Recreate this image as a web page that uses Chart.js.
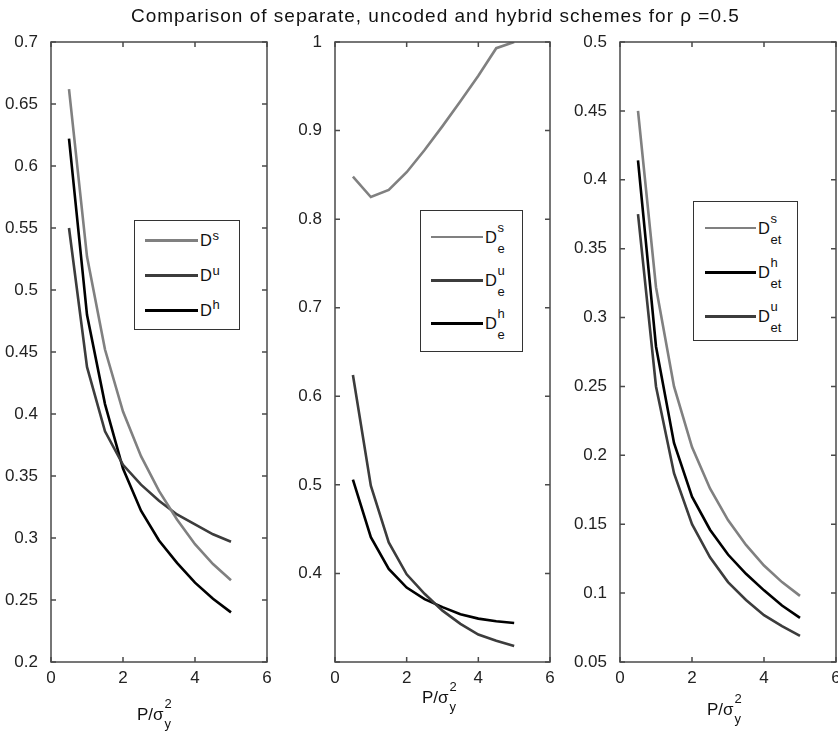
<!DOCTYPE html>
<html>
<head>
<meta charset="utf-8">
<script src="https://cdn.jsdelivr.net/npm/chart.js@4.4.1/dist/chart.umd.min.js"></script>
<style>
  html, body { margin: 0; padding: 0; background: #fff; overflow: hidden; width: 838px; height: 742px; }
  #page { position: relative; width: 838px; height: 742px; font-family: "Liberation Sans", Arial, sans-serif; color: #111; }
  #page canvas { position: absolute; left: 0; top: 0; }
  .t { position: absolute; line-height: 1; white-space: nowrap; }
  .leg { position: absolute; border: 1.5px solid #333; background: #fff; box-sizing: border-box; }
  .ln { position: absolute; }
</style>
</head>
<body>
<div id="page"></div>
<script>
// x = P / sigma_y^2
const powerRatio = [0.5, 1, 1.5, 2, 2.5, 3, 3.5, 4, 4.5, 5];

// left panel: overall distortion
const dSeparate = [0.662, 0.527, 0.452, 0.402, 0.366, 0.338, 0.315, 0.295, 0.279, 0.266];
const dUncoded  = [0.550, 0.438, 0.386, 0.359, 0.343, 0.330, 0.319, 0.311, 0.303, 0.297];
const dHybrid   = [0.622, 0.480, 0.408, 0.356, 0.322, 0.298, 0.280, 0.264, 0.251, 0.240];

// middle panel: eavesdropper distortion
const deSeparate = [0.848, 0.825, 0.833, 0.853, 0.878, 0.905, 0.933, 0.962, 0.993, 1.000];
const deUncoded  = [0.624, 0.499, 0.435, 0.399, 0.377, 0.358, 0.343, 0.331, 0.324, 0.318];
const deHybrid   = [0.506, 0.441, 0.405, 0.384, 0.371, 0.362, 0.354, 0.349, 0.346, 0.344];

// right panel
const detSeparate = [0.450, 0.322, 0.250, 0.206, 0.176, 0.153, 0.135, 0.120, 0.108, 0.098];
const detHybrid   = [0.414, 0.279, 0.209, 0.170, 0.146, 0.128, 0.114, 0.102, 0.091, 0.082];
const detUncoded  = [0.375, 0.250, 0.187, 0.150, 0.126, 0.108, 0.095, 0.084, 0.076, 0.069];

const xTicks = [0, 2, 4, 6];
const titleText = "Comparison of separate, uncoded and hybrid schemes for \u03c1 =0.5";

const GRAY = "#808080", DARK = "#3c3c3c", BLACK = "#000000";
const page = document.getElementById("page");

function pts(ys) {
  return ys.map((y, i) => ({ x: powerRatio[i], y: y }));
}

function addText(html, x, baseline, size) {
  const d = document.createElement("div");
  d.className = "t";
  d.style.fontSize = size + "px";
  d.style.left = x + "px";
  d.style.top = (baseline - 0.8465 * size) + "px";
  d.innerHTML = html;
  page.appendChild(d);
  return d;
}

// matlab-like box with inward ticks on all four sides
const boxPlugin = {
  id: "mbox",
  afterDraw(chart) {
    const { ctx, chartArea: a, scales } = chart;
    const x = scales.x, y = scales.y;
    ctx.save();
    ctx.strokeStyle = "#4a4a4a";
    ctx.lineWidth = 1.5;
    ctx.strokeRect(a.left, a.top, a.right - a.left, a.bottom - a.top);
    ctx.beginPath();
    x.ticks.forEach(t => {
      const px = x.getPixelForValue(t.value);
      ctx.moveTo(px, a.bottom); ctx.lineTo(px, a.bottom - 5);
      ctx.moveTo(px, a.top); ctx.lineTo(px, a.top + 5);
    });
    y.ticks.forEach(t => {
      const py = y.getPixelForValue(t.value);
      ctx.moveTo(a.left, py); ctx.lineTo(a.left + 5, py);
      ctx.moveTo(a.right, py); ctx.lineTo(a.right - 5, py);
    });
    ctx.stroke();
    ctx.restore();
  }
};

function makePanel(cfg) {
  const canvas = document.createElement("canvas");
  canvas.width = 850;
  canvas.height = 742;
  page.appendChild(canvas);

  const datasets = cfg.series.map(s => ({
    label: s.label,
    data: pts(s.values),
    borderColor: s.color,
    backgroundColor: s.color,
    borderWidth: 2.6,
    pointRadius: 0,
    tension: 0,
    fill: false
  }));

  new Chart(canvas.getContext("2d"), {
    type: "line",
    data: { datasets: datasets },
    options: {
      responsive: false,
      animation: false,
      events: [],
      layout: { padding: { left: cfg.left - 48, right: 850 - cfg.right, top: 42, bottom: 742 - 662 - 30 } },
      plugins: { legend: { display: false }, tooltip: { enabled: false }, title: { display: false } },
      scales: {
        x: {
          type: "linear", min: 0, max: 6,
          afterFit: s => { s.height = 30; },
          grid: { display: false }, border: { display: false },
          afterBuildTicks: s => { s.ticks = xTicks.map(v => ({ value: v })); },
          ticks: { padding: -2, color: "#222", font: { family: "Liberation Sans", size: 17 }, maxRotation: 0 }
        },
        y: {
          type: "linear", min: cfg.yMin, max: cfg.yMax,
          afterFit: s => { s.width = 48; },
          grid: { display: false }, border: { display: false },
          ticks: {
            stepSize: cfg.yStep, autoSkip: false, padding: 5, color: "#222",
            font: { family: "Liberation Sans", size: 17 },
            callback: v => (cfg.hideLabel !== undefined && Math.abs(v - cfg.hideLabel) < 1e-6) ? "" : String(+v.toFixed(2))
          }
        }
      }
    },
    plugins: [boxPlugin]
  });

  // legend box
  const L = cfg.legend;
  const box = document.createElement("div");
  box.className = "leg";
  box.style.left = L.left + "px";
  box.style.top = L.top + "px";
  box.style.width = L.width + "px";
  box.style.height = L.height + "px";
  page.appendChild(box);
  cfg.series.forEach((s, i) => {
    const y = L.rows[i];
    const ln = document.createElement("div");
    ln.className = "ln";
    const lw = s.color === GRAY ? 2.6 : 3;
    ln.style.left = L.lineX + "px";
    ln.style.width = L.lineW + "px";
    ln.style.top = (y - lw / 2) + "px";
    ln.style.height = lw + "px";
    ln.style.background = s.color;
    page.appendChild(ln);
    const base = y + 0.358 * 16.5;
    const dEl = addText("D", L.lineX + L.lineW + 2, base, 16.5);
    const sx = L.lineX + L.lineW + 2 + dEl.offsetWidth + 0.5;
    addText(s.sup, sx, base - L.supUp, 13);
    if (L.sub) addText(L.sub, sx, base + 10, 13);
  });

  // x axis label  P/sigma_y^2
  const ax = cfg.axisLabel;
  const main = addText("P/\u03c3", ax.x, ax.base, 17);
  const w = main.offsetWidth;
  addText("2", ax.x + w + 0.5, ax.base - 11.5, 13);
  addText("y", ax.x + w + 0.5, ax.base + 8, 13);
}

makePanel({
  left: 51, right: 267, yMin: 0.2, yMax: 0.7, yStep: 0.05,
  series: [
    { label: "D^s", sup: "s", values: dSeparate, color: GRAY },
    { label: "D^u", sup: "u", values: dUncoded, color: DARK },
    { label: "D^h", sup: "h", values: dHybrid, color: BLACK }
  ],
  legend: { left: 134, top: 220, width: 106, height: 110, lineX: 145, lineW: 53, rows: [240.5, 275.5, 310], supUp: 6.5, sub: "" },
  axisLabel: { x: 137, base: 720 }
});

makePanel({
  left: 335, right: 550, yMin: 0.3, yMax: 1, yStep: 0.1, hideLabel: 0.3,
  series: [
    { label: "D_e^s", sup: "s", values: deSeparate, color: GRAY },
    { label: "D_e^u", sup: "u", values: deUncoded, color: DARK },
    { label: "D_e^h", sup: "h", values: deHybrid, color: BLACK }
  ],
  legend: { left: 420, top: 210, width: 103, height: 142, lineX: 431, lineW: 52, rows: [237, 280, 323], supUp: 10.5, sub: "e" },
  axisLabel: { x: 422, base: 703 }
});

makePanel({
  left: 620, right: 836, yMin: 0.05, yMax: 0.5, yStep: 0.05,
  series: [
    { label: "D_et^s", sup: "s", values: detSeparate, color: GRAY },
    { label: "D_et^h", sup: "h", values: detHybrid, color: BLACK },
    { label: "D_et^u", sup: "u", values: detUncoded, color: DARK }
  ],
  legend: { left: 693, top: 201, width: 105, height: 140, lineX: 705, lineW: 51, rows: [228, 272, 316], supUp: 11, sub: "et" },
  axisLabel: { x: 707, base: 715 }
});

const title = addText(titleText, 131, 21.7, 19);
title.style.letterSpacing = "1px";
</script>
</body>
</html>
